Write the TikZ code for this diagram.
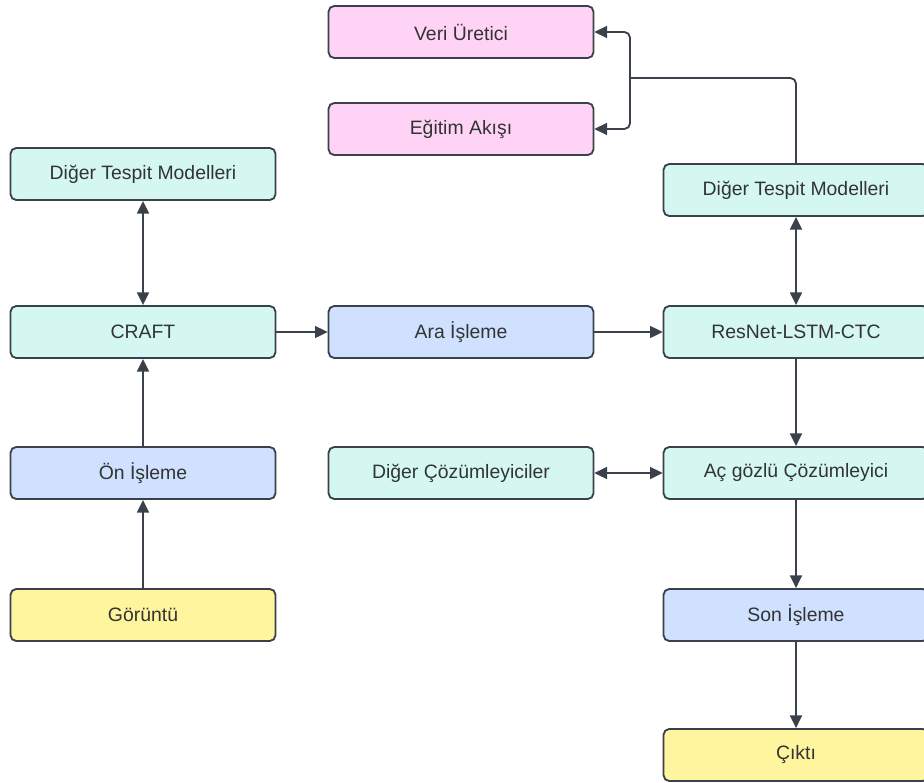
\documentclass[tikz,border=0pt]{standalone}
\usepackage{fontspec}
\setmainfont{Liberation Sans}
\usetikzlibrary{arrows.meta}

\definecolor{edgegray}{HTML}{3A414A}
\definecolor{textgray}{HTML}{333333}
\definecolor{pinkfill}{HTML}{FFD3F5}
\definecolor{tealfill}{HTML}{D4F8F1}
\definecolor{bluefill}{HTML}{CFE1FF}
\definecolor{yellowfill}{HTML}{FFF59E}

\tikzset{
    box/.style={draw=edgegray, line width=1.3pt, rounded corners=4pt,
        minimum width=6.62cm, minimum height=1.3cm, text=textgray,
        font=\fontsize{13.8}{16}\selectfont},
    pinkbox/.style={box, fill=pinkfill},
    tealbox/.style={box, fill=tealfill},
    bluebox/.style={box, fill=bluefill},
    yellowbox/.style={box, fill=yellowfill},
    link/.style={draw=edgegray, line width=1.3pt,
        -{Triangle[length=9pt, width=8.5pt]}},
    twolink/.style={link, {Triangle[length=9pt, width=8.5pt]}-{Triangle[length=9pt, width=8.5pt]}}
}

\begin{document}
\begin{tikzpicture}[x=0.025cm, y=-0.025cm]
    % page frame
    \clip (0,0) rectangle (924,782);
    \fill[white] (0,0) rectangle (924,782);

    % Left column
    \node[tealbox] (dtmleft) at (143,174) {Diğer Tespit Modelleri};
    \node[tealbox] (craft) at (143,332) {CRAFT};
    \node[bluebox] (onisleme) at (143,473) {Ön İşleme};
    \node[yellowbox] (goruntu) at (143,615) {Görüntü};

    % Middle column
    \node[pinkbox] (veri) at (461,32) {Veri Üretici};
    \node[pinkbox] (egitim) at (461,129) {Eğitim Akışı};
    \node[bluebox] (ara) at (461,332) {Ara İşleme};
    \node[tealbox] (digercoz) at (461,473) {Diğer Çözümleyiciler};

    % Right column
    \node[tealbox] (dtmright) at (796,190) {Diğer Tespit Modelleri};
    \node[tealbox] (resnet) at (796,332) {ResNet-LSTM-CTC};
    \node[tealbox] (acgozlu) at (796,473) {Aç gözlü Çözümleyici};
    \node[bluebox] (sonisleme) at (796,615) {Son İşleme};
    \node[yellowbox] (cikti) at (796,755) {Çıktı};

    % Connectors
    \draw[link] (goruntu) -- (onisleme);
    \draw[link] (onisleme) -- (craft);
    \draw[twolink] (craft) -- (dtmleft);
    \draw[link] (craft) -- (ara);
    \draw[link] (ara) -- (resnet);
    \draw[twolink] (resnet) -- (dtmright);
    \draw[link] (resnet) -- (acgozlu);
    \draw[twolink] (digercoz) -- (acgozlu);
    \draw[link] (acgozlu) -- (sonisleme);
    \draw[link] (sonisleme) -- (cikti);

    % Fork to the training boxes
    \coordinate (fork) at (630,78);
    \draw[draw=edgegray, line width=1.3pt, rounded corners=4pt] (dtmright.north) |- (fork);
    \draw[link, rounded corners=4pt] (fork) |- (veri.east);
    \draw[link, rounded corners=4pt] (fork) |- (egitim.east);
\end{tikzpicture}
\end{document}
